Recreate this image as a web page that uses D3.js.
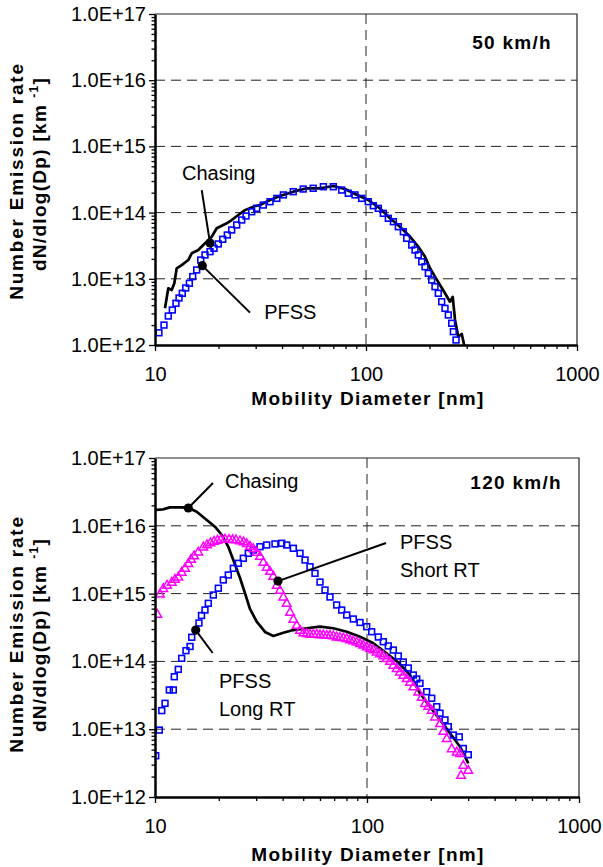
<!DOCTYPE html>
<html>
<head>
<meta charset="utf-8">
<script src="https://cdn.jsdelivr.net/npm/d3@7"></script>
<style>
  html, body { margin: 0; padding: 0; background: #fff; }
  svg { display: block; }
  text { font-family: "Liberation Sans", Arial, sans-serif; fill: #000; }
</style>
</head>
<body>
<svg id="chart" width="603" height="867"></svg>
<script>
// ---------- axis ticks ----------
const xMajorTicks = [10, 100, 1000];
const yMajorTicks = [1e12, 1e13, 1e14, 1e15, 1e16, 1e17];
const yGridValues = [1e13, 1e14, 1e15, 1e16];
const xGridValues = [100];

// ---------- 50 km/h : [mobility diameter nm, dN/dlogDp per km] ----------
const chasing50 = [
  [11.15,3.58e12],[11.56,7.18e12],[12.0,6.78e12],[12.35,8.55e12],[12.67,1.44e13],[13.38,1.61e13],
  [14.38,1.92e13],[14.93,2.43e13],[16.04,2.72e13],[17.26,3.44e13],[18.57,4.32e13],[19.61,5.79e13],
  [21.87,6.89e13],[23.09,7.73e13],[24.82,9.2e13],[26.7,1.09e14],[29.24,1.23e14],[31.45,1.30e14],
  [35.1,1.55e14],[39.1,1.78e14],[45.2,2.07e14],[52.4,2.33e14],[60.5,2.33e14],[70.0,2.52e14],
  [79.5,2.27e14],[88.7,1.91e14],[102.5,1.55e14],[116.5,1.16e14],[129.9,8.2e13],[144.9,6.12e13],
  [161.7,4.32e13],[177.0,3.05e13],[190.4,2.16e13],[201.1,1.44e13],[212.3,1.08e13],[224.2,8.06e12],
  [236.8,6.04e12],[250.0,4.51e12],[257.6,5.31e12],[264.2,2.39e12],[273.8,1.33e12],[284.1,1.47e12],
  [294.5,8.9e11]
];
const pfss50 = [
  [10.44,1.53e12],[11.03,2.0e12],[11.56,2.74e12],[12.08,3.38e12],[12.57,4.27e12],[13.0,5.13e12],
  [13.47,6.04e12],[13.98,7.26e12],[14.55,8.55e12],[15.09,1.08e13],[15.76,1.36e13],[16.47,1.92e13],
  [17.26,2.29e13],[18.23,2.57e13],[19.04,2.89e13],[19.95,3.36e13],[20.94,3.95e13],[22.01,4.59e13],
  [23.09,5.46e13],[24.39,6.50e13],[25.76,7.73e13],[27.0,8.89e13],[28.72,1.03e14],[30.34,1.16e14],
  [32.6,1.30e14],[35.1,1.46e14],[37.8,1.64e14],[40.6,1.85e14],[45.2,2.07e14],[50.4,2.27e14],
  [56.2,2.33e14],[62.8,2.46e14],[70.0,2.46e14],[76.7,2.19e14],[82.4,1.96e14],[88.7,1.85e14],
  [95.4,1.64e14],[102.5,1.46e14],[108.3,1.27e14],[114.4,1.16e14],[120.8,9.75e13],[127.6,8.20e13],
  [134.8,7.29e13],[142.3,6.12e13],[150.3,5.14e13],[155.9,4.09e13],[164.7,3.24e13],[170.7,2.72e13],
  [177.0,2.29e13],[183.7,1.81e13],[190.4,1.52e13],[197.4,1.21e13],[204.8,9.6e12],[212.3,7.6e12],
  [220.1,6.04e12],[228.4,4.51e12],[236.8,3.58e12],[245.5,2.84e12],[254.8,2.13e12],[259.3,1.59e12],
  [267.1,1.19e12]
];

// ---------- 120 km/h ----------
const chasing120 = [
  [10.0,1.71e16],[10.94,1.75e16],[11.77,1.87e16],[13.12,1.87e16],[14.36,1.85e16],[15.73,1.61e16],
  [17.54,1.22e16],[19.19,9.7e15],[20.64,7.31e15],[22.17,4.92e15],[23.41,3.13e15],[25.18,1.70e15],
  [26.59,1.01e15],[28.06,5.93e14],[30.18,3.85e14],[33.03,2.72e14],[36.14,2.37e14],[40.29,2.65e14],
  [44.92,2.90e14],[51.95,3.08e14],[60.02,3.25e14],[69.34,3.08e14],[80.24,2.74e14],[92.7,2.31e14],
  [107.1,1.85e14],[123.8,1.32e14],[140.5,9.64e13],[159.5,6.30e13],[177.8,3.39e13],[198.2,2.15e13],
  [221.0,1.37e13],[246.4,8.7e12],[274.6,5.52e12],[300.5,3.14e12]
];
const pfssShort120 = [
  [10.08,4.06e12],[10.48,9.7e12],[10.76,1.88e13],[11.15,2.41e13],[11.68,3.79e13],[12.20,3.79e13],
  [12.33,5.94e13],[12.88,7.64e13],[13.36,1.11e14],[14.00,1.44e14],[14.63,1.66e14],[14.90,2.27e14],
  [16.12,3.68e14],[16.57,4.75e14],[17.21,5.73e14],[17.84,7.19e14],[18.84,9.53e14],[19.89,1.20e15],
  [21.00,1.59e15],[22.17,1.88e15],[23.41,2.36e15],[24.72,2.80e15],[26.10,3.32e15],[27.55,3.93e15],
  [29.09,4.40e15],[31.28,4.92e15],[33.64,5.21e15],[36.81,5.40e15],[39.59,5.52e15],[41.80,5.21e15],
  [44.92,4.66e15],[48.31,3.93e15],[51.01,3.13e15],[53.84,2.49e15],[56.85,1.99e15],[60.02,1.48e15],
  [63.37,1.13e15],[66.90,8.91e14],[71.93,6.79e14],[75.96,5.73e14],[80.24,4.83e14],[86.18,4.22e14],
  [92.68,3.75e14],[99.7,3.25e14],[105.2,2.74e14],[113.1,2.29e14],[119.4,1.95e14],[126.0,1.69e14],
  [133.1,1.47e14],[140.5,1.20e14],[148.3,9.8e13],[156.6,8.0e13],[165.4,6.30e13],[171.6,5.50e13],
  [177.8,4.75e13],[191.2,3.57e13],[202.0,2.86e13],[213.3,2.15e13],[221.0,1.72e13],[233.3,1.37e13],
  [241.8,1.09e13],[255.4,8.2e12],[272.5,7.7e12],[284.6,5.2e12],[300.5,4.2e12]
];
const pfssLong120 = [
  [10.25,5.0e14],[10.56,9.9e14],[10.94,1.20e15],[11.39,1.34e15],[11.99,1.48e15],[12.43,1.64e15],
  [12.88,1.77e15],[13.36,2.08e15],[13.86,2.39e15],[14.36,2.80e15],[14.79,3.24e15],[15.28,3.65e15],
  [16.00,4.15e15],[16.90,4.92e15],[17.59,5.30e15],[18.27,5.67e15],[18.98,5.97e15],[19.71,6.18e15],
  [20.48,6.38e15],[21.39,6.43e15],[22.35,6.38e15],[23.21,6.32e15],[24.11,6.28e15],[25.18,6.07e15],
  [26.16,5.86e15],[27.08,5.52e15],[28.06,5.04e15],[29.09,4.66e15],[30.18,4.11e15],[31.28,3.59e15],
  [32.43,2.92e15],[33.64,2.47e15],[34.87,2.15e15],[36.14,1.82e15],[37.51,1.34e15],[38.87,1.13e15],
  [40.29,9.0e14],[41.80,7.26e14],[43.34,5.36e14],[44.92,4.22e14],[46.60,3.44e14],[48.31,2.90e14],
  [50.07,2.67e14],[51.95,2.59e14],[53.84,2.54e14],[55.81,2.54e14],[57.91,2.54e14],[60.02,2.49e14],
  [62.22,2.49e14],[64.55,2.45e14],[66.90,2.45e14],[69.34,2.41e14],[71.93,2.31e14],[74.59,2.29e14],
  [77.31,2.25e14],[80.24,2.19e14],[83.16,2.10e14],[86.18,2.03e14],[89.42,1.95e14],[92.68,1.85e14],
  [96.05,1.75e14],[99.7,1.65e14],[103.3,1.58e14],[107.1,1.50e14],[111.1,1.39e14],[115.1,1.31e14],
  [119.4,1.22e14],[123.8,1.11e14],[128.4,1.01e14],[133.1,8.85e13],[138.1,7.91e13],[143.1,7.05e13],
  [148.3,6.30e13],[153.9,5.63e13],[159.5,4.97e13],[165.4,4.24e13],[174.6,3.57e13],[181.1,2.99e13],
  [187.8,2.41e13],[194.6,2.20e13],[202.0,1.92e13],[209.4,1.53e13],[221.0,1.22e13],[229.1,9.4e12],
  [237.7,7.35e12],[250.9,5.2e12],[264.9,4.66e12],[274.6,4.42e12],[284.6,2.96e12],[277.6,2.11e12],
  [300.5,2.50e12]
];

// ---------- callouts: label position, leader start, marker dot (data units) ----------
const notes50 = [
  { lines: ["Chasing"], at: [13.43, 3.1e14], from: [16.65, 2.19e14], dot: [18.23, 3.47e13] },
  { lines: ["PFSS"], at: [32.9, 2.47e12], from: [28.2, 3.08e12], dot: [16.76, 1.58e13] }
];
const notes120 = [
  { lines: ["Chasing"], at: [21.39, 3.61e16], from: [18.77, 4.28e16], dot: [14.36, 1.83e16] },
  { lines: ["PFSS", "Short RT"], at: [143.1, 4.55e15], from: [122.9, 5.58e15], dot: [38.03, 1.53e15] },
  { lines: ["PFSS", "Long RT"], at: [20.04, 4.05e13], from: [18.71, 1.33e14], dot: [15.56, 2.90e14] }
];

const FONT = '"Liberation Sans", Arial, sans-serif';
const svg = d3.select("#chart");
svg.append("rect").attr("width", 603).attr("height", 867).attr("fill", "#fff");

const panels = [
  {
    id: "p50", left: 155, right: 577, top: 14, bottom: 345,
    title: "50 km/h", titleX: 552, titleY: 49,
    xTitleY: 405, yTitle1: [23, 181], yTitle2: [46, 174],
    line: chasing50, squares: pfss50, triangles: null, notes: notes50
  },
  {
    id: "p120", left: 155, right: 579, top: 458, bottom: 797,
    title: "120 km/h", titleX: 562, titleY: 489,
    xTitleY: 861, yTitle1: [23, 634], yTitle2: [46, 635],
    line: chasing120, squares: pfssShort120, triangles: pfssLong120, notes: notes120
  }
];

const minorY = [];
for (let e = 12; e < 17; e++) for (let k = 2; k <= 9; k++) minorY.push(k * Math.pow(10, e));
const minorX = [];
for (let e = 1; e < 3; e++) for (let k = 2; k <= 9; k++) minorX.push(k * Math.pow(10, e));

const yFmt = d => d.toExponential(1).toUpperCase();

panels.forEach(p => {
  const x = d3.scaleLog().domain([10, 1000]).range([p.left, p.right]);
  const y = d3.scaleLog().domain([1e12, 1e17]).range([p.bottom, p.top]);
  const g = svg.append("g");

  const clipId = "clip-" + p.id;
  svg.append("clipPath").attr("id", clipId)
    .append("rect").attr("x", p.left).attr("y", p.top)
    .attr("width", p.right - p.left).attr("height", p.bottom - p.top);

  // dashed gridlines
  g.append("g").selectAll("line").data(yGridValues).join("line")
    .attr("x1", p.left).attr("x2", p.right)
    .attr("y1", d => y(d)).attr("y2", d => y(d))
    .attr("stroke", "#222").attr("stroke-width", 1).attr("stroke-dasharray", "10,6");
  g.append("g").selectAll("line").data(xGridValues).join("line")
    .attr("x1", d => x(d)).attr("x2", d => x(d))
    .attr("y1", p.top).attr("y2", p.bottom)
    .attr("stroke", "#222").attr("stroke-width", 1).attr("stroke-dasharray", "10,6");

  // top and right frame
  g.append("path")
    .attr("d", `M${p.left},${p.top}H${p.right}V${p.bottom}`)
    .attr("fill", "none").attr("stroke", "#222").attr("stroke-width", 1.2);

  // series
  const plot = g.append("g").attr("clip-path", `url(#${clipId})`);
  plot.append("path").datum(p.line)
    .attr("d", d3.line().x(d => x(d[0])).y(d => y(d[1])))
    .attr("fill", "none").attr("stroke", "#000").attr("stroke-width", 2.7)
    .attr("stroke-linejoin", "round");

  const s = 5.8;
  plot.append("g").selectAll("rect").data(p.squares).join("rect")
    .attr("x", d => x(d[0]) - s / 2).attr("y", d => y(d[1]) - s / 2)
    .attr("width", s).attr("height", s)
    .attr("fill", "none").attr("stroke", "#0000ff").attr("stroke-width", 1.6);

  if (p.triangles) {
    plot.append("g").selectAll("path").data(p.triangles).join("path")
      .attr("d", "M0,-4.5L4.3,3.2L-4.3,3.2Z")
      .attr("transform", d => `translate(${x(d[0])},${y(d[1])})`)
      .attr("fill", "none").attr("stroke", "#ff00ff").attr("stroke-width", 1.5);
  }

  // axes
  const styleAxis = sel => {
    sel.attr("font-family", FONT).attr("font-size", 20);
    sel.selectAll("text").attr("fill", "#000");
    sel.selectAll("line").attr("stroke", "#000").attr("stroke-width", 1.3);
  };
  g.append("g").attr("transform", `translate(${p.left},0)`)
    .call(d3.axisLeft(y).tickValues(minorY).tickSize(3.5).tickFormat("").tickSizeOuter(0))
    .call(a => a.select(".domain").remove()).call(styleAxis);
  g.append("g").attr("transform", `translate(0,${p.bottom})`)
    .call(d3.axisBottom(x).tickValues(minorX).tickSize(4).tickFormat("").tickSizeOuter(0))
    .call(a => a.select(".domain").remove()).call(styleAxis);
  g.append("g").attr("transform", `translate(${p.left},0)`)
    .call(d3.axisLeft(y).tickValues(yMajorTicks).tickSize(6).tickPadding(3).tickFormat(yFmt).tickSizeOuter(0))
    .call(styleAxis)
    .call(a => a.select(".domain").attr("stroke", "#000").attr("stroke-width", 2.5));
  g.append("g").attr("transform", `translate(0,${p.bottom})`)
    .call(d3.axisBottom(x).tickValues(xMajorTicks).tickSize(6).tickPadding(16).tickFormat(d3.format("d")).tickSizeOuter(0))
    .call(styleAxis)
    .call(a => a.select(".domain").attr("stroke", "#000").attr("stroke-width", 2.5));

  // callouts
  const notes = g.append("g");
  p.notes.forEach(n => {
    notes.append("line")
      .attr("x1", x(n.from[0])).attr("y1", y(n.from[1]))
      .attr("x2", x(n.dot[0])).attr("y2", y(n.dot[1]))
      .attr("stroke", "#000").attr("stroke-width", 2);
    notes.append("circle")
      .attr("cx", x(n.dot[0])).attr("cy", y(n.dot[1])).attr("r", 4.6).attr("fill", "#000");
    const t = notes.append("text")
      .attr("x", x(n.at[0])).attr("y", y(n.at[1]))
      .attr("font-size", 20);
    n.lines.forEach((ln, i) => {
      t.append("tspan").attr("x", x(n.at[0])).attr("dy", i === 0 ? 0 : 28).text(ln);
    });
  });

  // panel title
  g.append("text").attr("x", p.titleX).attr("y", p.titleY)
    .attr("text-anchor", "end").attr("font-size", 19).attr("font-weight", "bold")
    .attr("letter-spacing", 1.3).text(p.title);

  // axis titles
  g.append("text").attr("x", 368).attr("y", p.xTitleY)
    .attr("text-anchor", "middle").attr("font-size", 19).attr("font-weight", "bold")
    .attr("letter-spacing", 1.3).text("Mobility Diameter [nm]");

  g.append("text")
    .attr("transform", `translate(${p.yTitle1[0]},${p.yTitle1[1]}) rotate(-90)`)
    .attr("text-anchor", "middle").attr("font-size", 19).attr("font-weight", "bold")
    .attr("letter-spacing", 1.8).text("Number Emission rate");

  const yt2 = g.append("text")
    .attr("transform", `translate(${p.yTitle2[0]},${p.yTitle2[1]}) rotate(-90)`)
    .attr("text-anchor", "middle").attr("font-size", 19).attr("font-weight", "bold")
    .attr("letter-spacing", 1.3);
  yt2.append("tspan").text("dN/dlog(Dp) [km");
  yt2.append("tspan").attr("dx", 6).attr("dy", -8).attr("font-size", 12).text("-1");
  yt2.append("tspan").attr("dy", 8).text("]");
});
</script>
</body>
</html>
